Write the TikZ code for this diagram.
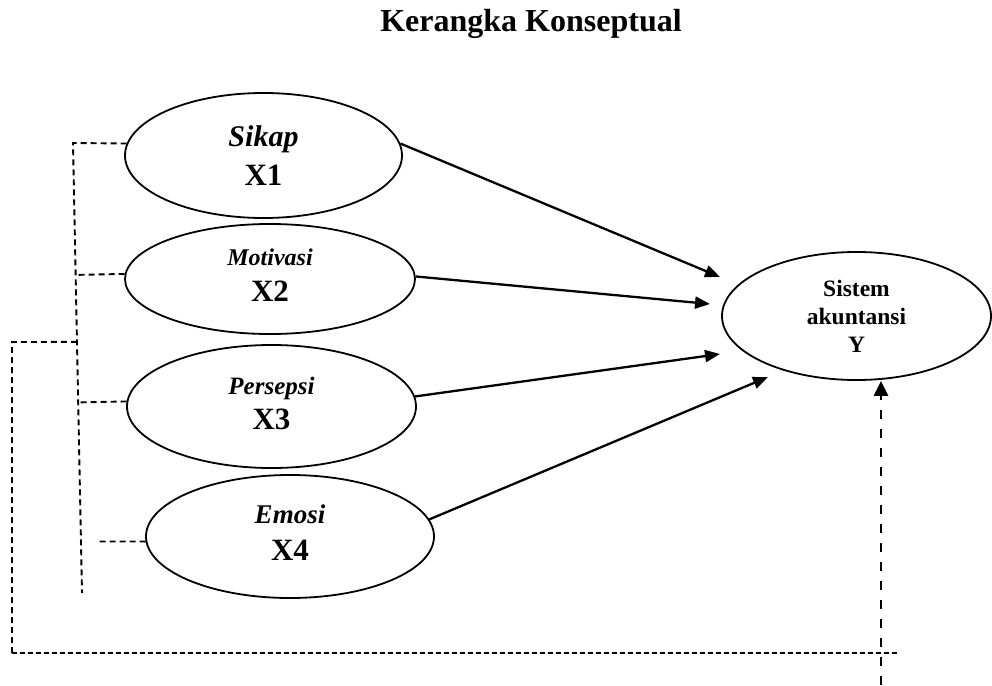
\documentclass[tikz,border=0pt]{standalone}
\usepackage{fontspec}
\setmainfont{Liberation Serif}
\usetikzlibrary{arrows.meta}
\usetikzlibrary{shapes.geometric}
\usetikzlibrary{calc}
\tikzset{
    latent/.style = {ellipse, draw=black, line width=1.8pt, inner sep=0pt, align=center},
    path_arrow/.style = {-{Triangle[length=15pt, width=12pt]}, line width=2.3pt},
    link_dash/.style = {line width=1.9pt, dash pattern=on 6pt off 4pt},
    base_dash/.style = {line width=1.6pt, dash pattern=on 5pt off 3pt},
    feed_arrow/.style = {-{Triangle[length=15pt, width=14pt]}, line width=2.7pt, dash pattern=on 9pt off 10pt}
}
\newcommand{\latname}[2]{{\fontsize{#1}{#1}\selectfont\textit{#2}}}

\begin{document}
\begin{tikzpicture}[x=1pt, y=-1pt]
    \useasboundingbox (0,0) rectangle (992,685);

    % title
    \node [anchor=base] (title) at (531,32) {\fontsize{32}{36}\selectfont\textbf{Kerangka Konseptual}};

    % variables
    \node [latent, minimum width=277pt, minimum height=125pt, font=\fontsize{31}{39}\selectfont\bfseries] (x1) at (263.5,155.5)
        {\latname{30}{Sikap}\\ X1};
    \node [latent, minimum width=290pt, minimum height=110pt, text depth=7pt, font=\fontsize{31}{36}\selectfont\bfseries] (x2) at (270,279)
        {\latname{24}{Motivasi}\\ X2};
    \node [latent, minimum width=289pt, minimum height=123pt, text depth=7pt, font=\fontsize{31}{35}\selectfont\bfseries] (x3) at (271.5,406.5)
        {\latname{25}{Persepsi}\\ X3};
    \node [latent, minimum width=288pt, minimum height=123pt, text depth=8pt, font=\fontsize{31}{37}\selectfont\bfseries] (x4) at (290,536.5)
        {\latname{27}{Emosi}\\ X4};
    \node [latent, minimum width=269pt, minimum height=128pt, font=\fontsize{23.5}{28}\selectfont\bfseries] (y) at (856.5,316)
        {Sistem\\ akuntansi\\ Y};

    % arrow ends
    \coordinate (t1) at (720,277);
    \coordinate (t2) at (710,304);
    \coordinate (t3) at (720,354);
    \coordinate (t4) at (768,377);

    \draw [path_arrow] (x1.5) -- (t1);
    \draw [path_arrow] (x2.1) -- (t2);
    \draw [path_arrow] (x3.4) -- (t3);
    \draw [path_arrow] (x4.7) -- (t4);

    % left bracket
    \coordinate (sp_top) at (73,143);
    \coordinate (sp_bot) at (82,593);
    \coordinate (sp_x4) at (96,541.5);
    \draw [link_dash] (x1.175) -- (sp_top) -- (sp_bot);
    \draw [link_dash] (x2.178) -- ($(sp_top)!(x2.178)!(sp_bot)$);
    \draw [link_dash] (x3.178) -- ($(sp_top)!(x3.178)!(sp_bot)$);
    \draw [link_dash] (x4.182) -- (sp_x4);

    % outer loop
    \coordinate (loop_a) at ($(sp_top)!0.442!(sp_bot)$);
    \coordinate (loop_b) at (12,342);
    \coordinate (loop_c) at (12,653);
    \coordinate (loop_d) at (897,653);
    \draw [link_dash] (loop_a) -- (loop_b) -- (loop_c);
    \draw [base_dash] (loop_c) -- (loop_d);

    \coordinate (fb_start) at (881,685);
    \draw [feed_arrow] (fb_start) -- (fb_start |- y.south);
\end{tikzpicture}
\end{document}
